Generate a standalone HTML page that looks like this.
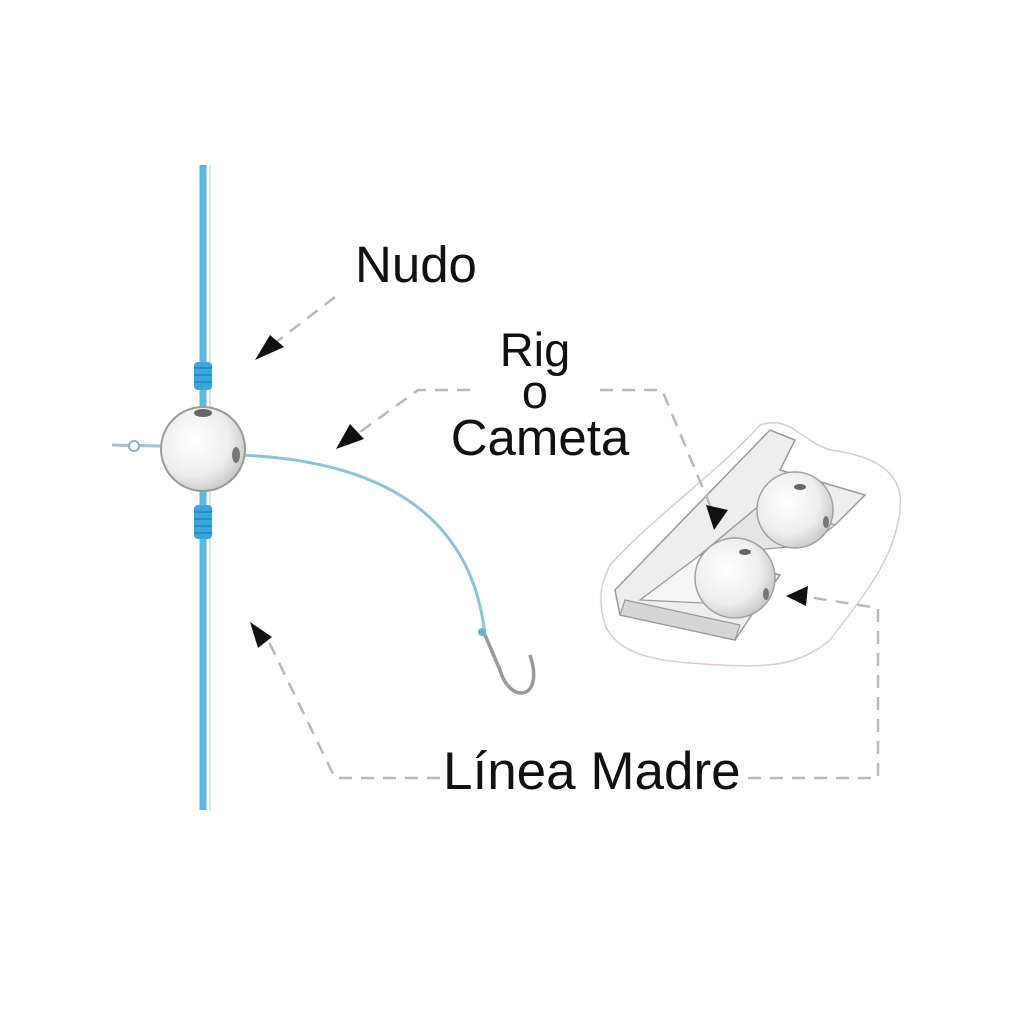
<!DOCTYPE html>
<html><head><meta charset="utf-8"><style>
html,body{margin:0;padding:0;background:#fff;}
svg{display:block;}
text{font-family:"Liberation Sans",Arial,sans-serif;fill:#111;}
</style></head><body>
<svg width="1024" height="1024" viewBox="0 0 1024 1024" xmlns="http://www.w3.org/2000/svg">
<defs>
<radialGradient id="ball" cx="0.4" cy="0.4" r="0.7">
<stop offset="0" stop-color="#ffffff"/><stop offset="0.6" stop-color="#eeeeee"/><stop offset="1" stop-color="#bdbdbd"/>
</radialGradient>
</defs>
<rect width="1024" height="1024" fill="#fff"/>
<line x1="203" y1="165" x2="203" y2="810" stroke="#5fb6de" stroke-width="7"/>
<line x1="210" y1="165" x2="210" y2="810" stroke="#cfe9f5" stroke-width="2"/>
<g fill="#3aa6dc">
<rect x="194" y="362" width="18" height="28" rx="4"/>
<rect x="194" y="505" width="18" height="34" rx="4"/>
</g>
<g stroke="#1f86bf" stroke-width="1.5">
<line x1="194" y1="368" x2="212" y2="368"/><line x1="194" y1="375" x2="212" y2="375"/><line x1="194" y1="382" x2="212" y2="382"/>
<line x1="194" y1="512" x2="212" y2="512"/><line x1="194" y1="519" x2="212" y2="519"/><line x1="194" y1="526" x2="212" y2="526"/><line x1="194" y1="533" x2="212" y2="533"/>
</g>
<line x1="112" y1="445" x2="160" y2="446" stroke="#9fc4d6" stroke-width="3"/>
<circle cx="134" cy="446" r="5" fill="#fff" stroke="#8fb3c4" stroke-width="2"/>
<path d="M240 455 C 360 460, 470 500, 485 635" fill="none" stroke="#8cc3dc" stroke-width="3"/>
<path d="M485 635 L 500 670 C 510 705, 545 700, 530 655" fill="none" stroke="#999" stroke-width="3.5"/>
<circle cx="482" cy="632" r="4" fill="#6aaed0"/>
<circle cx="203" cy="449" r="42" fill="url(#ball)" stroke="#9a9a9a" stroke-width="2"/>
<ellipse cx="203" cy="413" rx="9" ry="4" fill="#666"/>
<ellipse cx="236" cy="455" rx="4" ry="8" fill="#777"/>

<path d="M610 565 C 650 520, 720 470, 760 425 C 790 415, 800 440, 830 450 C 870 455, 905 470, 900 510 C 895 560, 860 600, 830 640 C 800 665, 770 668, 720 665 C 670 662, 620 660, 605 625 C 598 600, 600 585, 610 565 Z" fill="#fff" stroke="#e2c9cf" stroke-width="1.5"/>
<path d="M615 590 L 770 430 L 795 440 L 780 470 L 865 495 L 835 525 L 760 505 L 700 555 L 780 575 L 755 610 L 735 640 L 620 615 Z" fill="#eeeeee" stroke="#9a9a9a" stroke-width="1.5"/>
<path d="M700 555 L 760 505 L 835 525 L 810 545 Z" fill="#e4e4e4" stroke="#9a9a9a" stroke-width="1.2"/>
<path d="M640 600 L 700 555 L 770 575 L 745 605 Z" fill="#f6f6f6" stroke="#9a9a9a" stroke-width="1.2"/>
<path d="M620 615 L 735 640 L 740 625 L 625 600 Z" fill="#d6d6d6" stroke="#9a9a9a" stroke-width="1.2"/>
<circle cx="795" cy="510" r="38" fill="url(#ball)" stroke="#a0a0a0" stroke-width="1.5"/>
<ellipse cx="800" cy="487" rx="6" ry="3" fill="#666"/>
<ellipse cx="826" cy="522" rx="3" ry="6" fill="#777"/>
<circle cx="735" cy="578" r="40" fill="url(#ball)" stroke="#a0a0a0" stroke-width="1.5"/>
<ellipse cx="745" cy="552" rx="6" ry="3" fill="#666"/>
<ellipse cx="766" cy="594" rx="3" ry="6" fill="#777"/>

<g fill="none" stroke="#b9b9b9" stroke-width="2.5" stroke-dasharray="13 9">
<path d="M335 297 L 275 343"/>
<path d="M470 390 L 418 390 L 360 432"/>
<path d="M600 390 L 662 390 L 712 510"/>
<path d="M440 778 L 335 778 L 268 640"/>
<path d="M748 778 L 878 778 L 878 608 L 808 597"/>
</g>
<g fill="#111">
<polygon points="255,360 284,347 270,335"/>
<polygon points="336,449 364,439 350,424"/>
<polygon points="714,530 706,505 728,510"/>
<polygon points="250,622 258,648 272,637"/>
<polygon points="786,596 808,586 806,606"/>
</g>
<text x="355" y="282" font-size="51">Nudo</text>
<text x="535" y="366" font-size="47" text-anchor="middle">Rig</text>
<text x="535" y="408" font-size="47" text-anchor="middle">o</text>
<text x="540" y="455" font-size="51" text-anchor="middle">Cameta</text>
<text x="443" y="789" font-size="53">Línea Madre</text>
</svg>
</body></html>
